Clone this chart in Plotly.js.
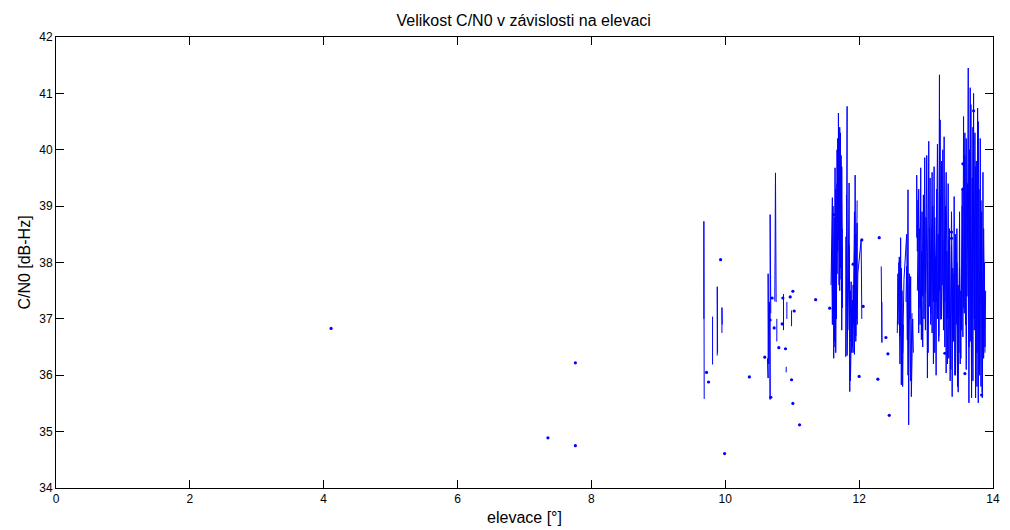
<!DOCTYPE html>
<html>
<head>
<meta charset="utf-8">
<script src="https://cdn.plot.ly/plotly-3.0.1.min.js"></script>
<style>html,body{margin:0;padding:0;background:#fff;}#chart{width:1010px;height:530px;}</style>
</head>
<body>
<div id="chart"></div>
<script>
// Connected C/N0 traces (null separates runs)
var lineElev = [
  9.68,9.68,9.68,9.68,9.685, null,
  9.81,9.81, null,
  9.88,9.88,9.885, null,
  9.95,9.95,9.955, null,
  10.63,10.63,10.64,10.64,10.65,10.66,10.67,10.67,10.68,10.68, null,
  10.74,10.74,10.75,10.75,10.76, null,
  10.77,10.77, null,
  10.87,10.87, null,
  10.92,10.92, null,
  10.99,10.99, null,
  10.91,10.91, null,
  11.58,11.59,11.60,11.60,11.61,11.62,11.62,11.63,11.63,11.64,11.64,11.65,11.65,11.66,11.66,11.67,11.67,11.68,11.69,11.69,11.70,11.70,11.71,11.71,11.72,11.72,11.73,11.73,11.74,11.74,11.75,11.75, null,
  11.59,11.60,11.61,11.62,11.63,11.64,11.65,11.66,11.67,11.68,11.69,11.70,11.71,11.72,11.73,11.74,11.75, null,
  11.80,11.80,11.81,11.82,11.82,11.83,11.85,11.86,11.86,11.87,11.88,11.88,11.89,11.90,11.90,11.91,11.92,11.93,11.93,11.94,11.95,11.95,11.96,11.97,11.97,11.98,12.03,12.04, null,
  11.81,11.83,11.85,11.87,11.89,11.91,11.93,11.95,11.97, null,
  12.33,12.34,12.34, null,
  12.57,12.58,12.58,12.59,12.60,12.61,12.62,12.63,12.64,12.65,12.66, null,
  12.70,12.71,12.72,12.72,12.73,12.74,12.75,12.76,12.77,12.78,12.79,12.80,12.81, null,
  12.59,12.61,12.63,12.65,12.67,12.71,12.73,12.75,12.77,12.79, null,
  12.86,12.86,12.87,12.88,12.89,12.90,12.91,12.92,12.93,12.94,12.95,12.96,12.97,12.98,12.99,13.00,13.01,13.02,13.03,13.04,13.05,13.06,13.07,13.08,13.09,13.10,13.11,13.12,13.13,13.14,13.15,13.16,13.17,13.18,13.19,13.20,13.20,13.21,13.22,13.23,13.24,13.25,13.26,
  13.27,13.28,13.29,13.30,13.31,13.32,13.33,13.34,13.35,13.36,13.37,13.38,13.39,13.40,13.41,13.42,13.43,13.44,13.45,13.46,13.47,13.48,13.49,13.50,13.51,13.52,13.53,13.54,13.55,13.56,13.57,13.58,13.59,13.60,13.61,13.62,13.63,13.64,13.65,13.66,13.67,13.68,13.69,13.70,13.71,13.72,13.73,13.74,13.75,13.76,13.77,13.78,13.79,13.80,13.81,13.82,13.83,13.84,13.85,13.86,13.87,13.88,13.89, null,
  12.87,12.89,12.91,12.93,12.95,12.97,12.99,13.01,13.03,13.05,13.07,13.09,13.11,13.13,13.15,13.17,13.19,13.21,13.23,13.25, null,
  13.28,13.30,13.32,13.34,13.36,13.38,13.40,13.42,13.44,13.46,13.48,13.50,13.52,13.54,13.56,13.58,13.60,13.62,13.64,13.66,13.68,13.70,13.72,13.74,13.76,13.78,13.80,13.82,13.84,13.86,13.88
];
var lineCn0 = [
  37.0,38.73,37.05,38.5,35.58, null,
  36.19,37.04, null,
  36.35,37.57,36.4, null,
  36.75,37.2,36.9, null,
  36.3,37.65,35.95,37.8,36.2,37.3,35.57,38.85,36.24,37.1, null,
  37.31,38.46,38.4,39.59,37.3, null,
  36.6,37.0, null,
  36.8,37.44, null,
  37.0,37.3, null,
  36.87,37.15, null,
  36.05,36.15, null,
  37.6,38.6,39.15,38.0,36.9,37.95,36.3,38.8,36.6,39.68,37.2,38.9,36.4,38.2,37.0,39.4,37.8,40.2,38.4,40.65,38.1,40.0,37.5,39.6,38.0,40.3,37.7,39.9,38.6,39.7,37.2,38.3, null,
  38.2,36.9,39.0,37.4,38.5,36.5,39.3,37.0,40.0,38.2,39.5,37.6,40.4,37.9,39.2,36.8,38.6, null,
  38.46,36.33,37.2,40.77,36.35,37.0,39.41,35.71,36.3,37.5,36.6,37.66,36.4,37.3,36.5,37.6,36.9,38.2,36.37,39.55,36.6,38.5,37.0,38.7,36.9,37.8,38.4,37.0, null,
  39.2,36.8,38.3,35.9,37.2,36.4,38.9,36.7,39.1, null,
  37.93,36.58,37.3, null,
  36.75,37.8,36.9,37.6,38.1,36.7,38.44,35.83,37.5,35.80,36.9, null,
  37.3,37.93,36.63,37.8,39.29,35.12,37.6,37.0,37.75,35.62,36.5,37.0,36.4, null,
  38.0,36.2,37.9,36.4,37.7,38.5,36.0,37.8,35.9,37.1, null,
  38.44,39.55,38.2,39.11,36.75,38.6,37.2,39.68,36.63,38.9,37.4,39.2,37.0,39.86,37.46,38.8,38.2,35.95,37.6,40.15,37.22,39.5,36.9,38.4,36.75,39.0,37.3,39.7,36.4,38.1,36.0,39.3,37.0,38.5,36.69,41.33,37.5,40.53,36.99,39.8,37.6,40.0,36.8,
  40.23,36.5,39.0,36.04,38.2,37.0,39.4,36.3,38.6,37.2,36.1,38.3,35.62,37.9,36.6,39.17,36.0,38.5,36.9,38.0,35.8,37.6,36.4,38.9,36.2,37.5,36.8,39.3,36.68,40.59,37.1,39.9,36.9,40.2,37.4,38.7,41.45,35.51,40.0,36.6,40.8,36.2,39.5,35.9,41.0,37.0,40.3,35.6,39.8,36.4,40.74,35.51,39.3,36.0,40.2,35.8,38.9,35.6,39.6,36.3,38.0,36.5,37.5, null,
  37.5,39.3,36.9,38.2,36.5,39.0,36.8,39.9,36.4,38.6,37.1,39.6,36.2,38.8,37.3,40.1,36.6,39.2,37.0,38.4, null,
  37.3,39.6,36.2,38.4,35.9,38.9,36.7,37.8,36.0,38.6,35.7,37.9,36.3,39.0,37.2,40.3,36.1,39.4,36.5,41.1,35.6,40.4,36.8,39.7,35.8,40.5,36.2,39.1,35.7,38.6,36.4
];
// Isolated samples
var dotElev = [4.11,7.35,7.76,7.76,9.99,9.72,9.75,9.93,10.36,10.59,10.68,10.70,10.67,10.73,10.80,10.90,10.85,10.86,10.97,11.01,11.03,10.99,11.01,11.11,11.35,11.56,11.62,11.91,11.95,12.04,12.06,12.00,12.28,12.30,12.40,12.43,12.45,11.91,13.55,13.55,13.38,13.38,13.71,13.58,13.83,13.28];
var dotCn0  = [36.83,34.89,36.22,34.75,34.61,36.05,35.88,38.05,35.97,36.32,35.61,37.37,36.98,36.84,36.49,36.47,36.91,37.37,37.39,37.49,37.14,35.92,35.50,35.12,37.34,37.19,38.85,37.97,37.76,38.40,37.22,35.98,35.93,38.44,36.67,36.38,35.29,37.31,39.75,39.30,38.54,38.43,40.69,36.03,35.65,36.39];

var xTicks = [0,2,4,6,8,10,12,14];
var yTicks = [34,35,36,37,38,39,40,41,42];

var font = 'Liberation Sans, Arial, sans-serif';
var traces = [
  {x: lineElev, y: lineCn0, type: 'scatter', mode: 'lines', connectgaps: false,
   line: {color: '#0000ff', width: 1}, hoverinfo: 'x+y'},
  {x: dotElev, y: dotCn0, type: 'scatter', mode: 'markers',
   marker: {color: '#0000ff', size: 3.2}, hoverinfo: 'x+y'}
];
var axisCommon = {
  showgrid: false, zeroline: false, showline: true, linecolor: '#000', linewidth: 1,
  mirror: 'ticks', ticks: 'inside', ticklen: 8, tickwidth: 1, tickcolor: '#000',
  tickfont: {family: font, size: 12, color: '#000'}
};
var layout = {
  width: 1010, height: 530,
  margin: {l: 56, r: 17, t: 37, b: 42},
  paper_bgcolor: '#fff', plot_bgcolor: '#fff',
  showlegend: false,
  title: {text: 'Velikost C/N0 v závislosti na elevaci', font: {family: font, size: 16, color: '#000'},
          x: 0.5185, xanchor: 'center', y: 0.962, yanchor: 'middle'},
  xaxis: Object.assign({}, axisCommon, {range: [0, 14], tickvals: xTicks, ticktext: xTicks.map(String),
          title: {text: 'elevace [°]', font: {family: font, size: 16, color: '#000'}, standoff: 6}}),
  yaxis: Object.assign({}, axisCommon, {range: [34, 42], tickvals: yTicks, ticktext: yTicks.map(String),
          title: {text: 'C/N0 [dB-Hz]', font: {family: font, size: 16, color: '#000'}, standoff: 4}})
};
Plotly.newPlot('chart', traces, layout, {displayModeBar: false, staticPlot: true});
</script>
</body>
</html>
